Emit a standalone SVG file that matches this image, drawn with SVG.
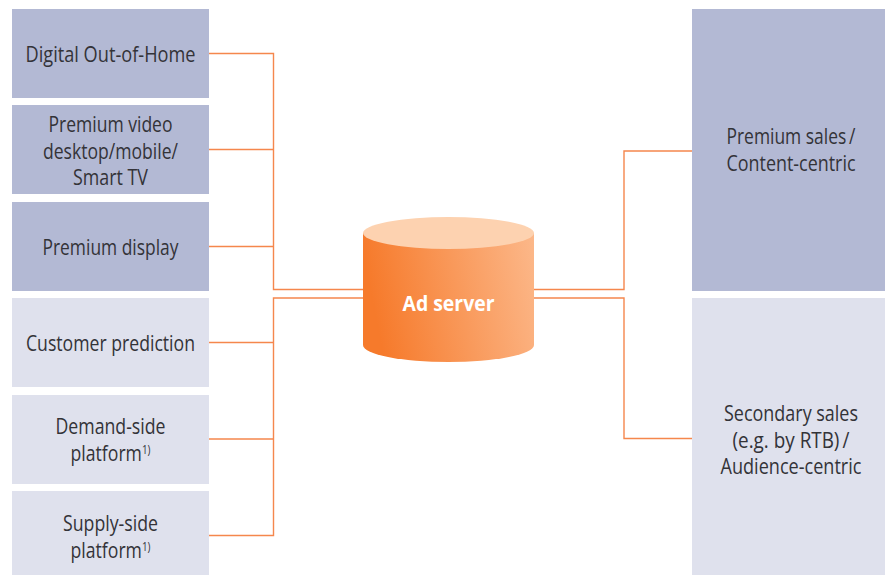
<svg xmlns="http://www.w3.org/2000/svg" width="885" height="575" viewBox="0 0 885 575">
<style>
.a{fill:#b3b9d4}.b{fill:#dfe1ed}
.t{font-family:"Open Sans","Noto Sans",sans-serif;font-size:21.500px;fill:#333338;text-anchor:middle}
.s{font-size:12px}
.c{fill:none;stroke:#f5874d;stroke-width:1.4}
</style>
<defs><linearGradient id="g" x1="0" x2="1" y1="0.15" y2="0"><stop offset="0" stop-color="#f67a2b"/><stop offset="1" stop-color="#fcb88a"/></linearGradient></defs>
<rect width="885" height="575" fill="#fff"/>
<g id="connectors" class="c">
<path d="M209 53.500H273.500V289.500H363"/>
<path d="M209 149.500H273.500M209 246.500H273.500"/>
<path d="M209 342.500H273.500M209 439H273.500"/>
<path d="M209 535.500H273.500V298H363"/>
<path d="M534 289.500H624V151H692"/>
<path d="M534 298H624V438.500H692"/>
</g>
<g id="n1"><rect class="a" x="12" y="9" width="197" height="89"/><text class="t" x="110.500" y="62" textLength="170" lengthAdjust="spacingAndGlyphs">Digital Out-of-Home</text></g>
<g id="n2"><rect class="a" x="12" y="105" width="197" height="89"/>
<text class="t" x="110.500" y="132" textLength="124" lengthAdjust="spacingAndGlyphs">Premium video</text>
<text class="t" x="110.500" y="159" textLength="135" lengthAdjust="spacingAndGlyphs">desktop/mobile/</text>
<text class="t" x="110.500" y="185" textLength="75" lengthAdjust="spacingAndGlyphs">Smart TV</text></g>
<g id="n3"><rect class="a" x="12" y="202" width="197" height="89"/><text class="t" x="110.500" y="255" textLength="136" lengthAdjust="spacingAndGlyphs">Premium display</text></g>
<g id="n4"><rect class="b" x="12" y="298" width="197" height="89"/><text class="t" x="110.500" y="351" textLength="169" lengthAdjust="spacingAndGlyphs">Customer prediction</text></g>
<g id="n5"><rect class="b" x="12" y="395" width="197" height="89"/>
<text class="t" x="110.500" y="434" textLength="110" lengthAdjust="spacingAndGlyphs">Demand-side</text>
<text class="t" x="110.500" y="461" textLength="80" lengthAdjust="spacingAndGlyphs">platform<tspan class="s" dy="-7">1)</tspan></text></g>
<g id="n6"><rect class="b" x="12" y="491" width="197" height="84"/>
<text class="t" x="110.500" y="531" textLength="95" lengthAdjust="spacingAndGlyphs">Supply-side</text>
<text class="t" x="110.500" y="558" textLength="80" lengthAdjust="spacingAndGlyphs">platform<tspan class="s" dy="-7">1)</tspan></text></g>
<g id="server">
<path d="M363 233V345A85.500 17 0 0 0 534 345V233Z" fill="url(#g)"/>
<ellipse cx="448.500" cy="233" rx="85.500" ry="16" fill="#fdd2b0"/>
<text x="448.500" y="311" font-family="Open Sans,Noto Sans,sans-serif" font-weight="700" font-size="22" fill="#fff" text-anchor="middle" textLength="92" lengthAdjust="spacingAndGlyphs">Ad server</text></g>
<g id="n7"><rect class="a" x="692" y="9" width="193" height="282"/>
<text class="t" x="791" y="144" textLength="129" lengthAdjust="spacingAndGlyphs">Premium sales&#8201;/</text>
<text class="t" x="791" y="171" textLength="129" lengthAdjust="spacingAndGlyphs">Content-centric</text></g>
<g id="n8"><rect class="b" x="692" y="298" width="193" height="277"/>
<text class="t" x="791" y="421" textLength="134" lengthAdjust="spacingAndGlyphs">Secondary sales</text>
<text class="t" x="791" y="448" textLength="117" lengthAdjust="spacingAndGlyphs">(e.g. by RTB)&#8201;/</text>
<text class="t" x="791" y="474" textLength="141" lengthAdjust="spacingAndGlyphs">Audience-centric</text></g>
</svg>
